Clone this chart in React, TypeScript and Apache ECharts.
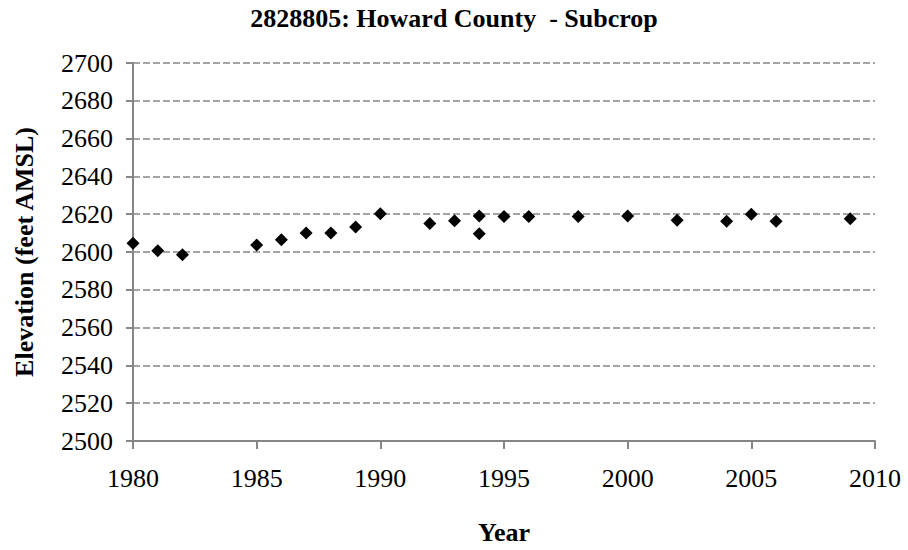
import React, { useEffect, useRef } from "react";
import * as echarts from "echarts";

const titleText = "2828805: Howard County  - Subcrop";
const xAxisName = "Year";
const yAxisName = "Elevation (feet AMSL)";

const years = [1980, 1981, 1982, 1985, 1986, 1987, 1988, 1989, 1990, 1992, 1993, 1994, 1994, 1995, 1996, 1998, 2000, 2002, 2004, 2005, 2006, 2009];
const elevations = [2604.6, 2600.7, 2598.6, 2603.7, 2606.5, 2610.0, 2610.0, 2613.2, 2620.2, 2615.1, 2616.5, 2619.0, 2609.7, 2618.8, 2618.8, 2618.8, 2619.0, 2616.8, 2616.3, 2620.0, 2616.3, 2617.6];

const xMin = 1980, xMax = 2010, xStep = 5;
const yMin = 2500, yMax = 2700, yStep = 20;

const FONT = "Liberation Serif";
const GRAY = "#868686";

export default function App() {
  const ref = useRef<HTMLDivElement>(null);
  useEffect(() => {
    document.body.style.margin = "0";
    const chart = echarts.init(ref.current!, null, { renderer: "svg" });
    const data = years.map((y, i) => [y, elevations[i]]);
    chart.setOption({
      animation: false,
      backgroundColor: "#ffffff",
      textStyle: { fontFamily: FONT },
      title: {
        text: titleText,
        left: "center",
        top: 0,
        textStyle: { fontFamily: FONT, fontWeight: "bold", fontSize: 26, color: "#000" },
      },
      grid: { left: 133, right: 33, top: 63, bottom: 107 },
      xAxis: {
        type: "value",
        min: xMin,
        max: xMax,
        interval: xStep,
        name: xAxisName,
        nameLocation: "middle",
        nameGap: 78,
        nameTextStyle: { fontFamily: FONT, fontWeight: "bold", fontSize: 26, color: "#000" },
        axisLine: { show: true, onZero: false, lineStyle: { color: GRAY, width: 2 } },
        axisTick: { show: true, length: 8, lineStyle: { color: GRAY, width: 2 } },
        axisLabel: { fontFamily: FONT, fontSize: 26, color: "#000", margin: 24, formatter: (v: number) => String(v) },
        splitLine: { show: false },
      },
      yAxis: {
        type: "value",
        min: yMin,
        max: yMax,
        interval: yStep,
        name: yAxisName,
        nameLocation: "middle",
        nameGap: 96,
        nameTextStyle: { fontFamily: FONT, fontWeight: "bold", fontSize: 26, color: "#000" },
        axisLine: { show: true, lineStyle: { color: GRAY, width: 2 } },
        axisTick: { show: true, length: 7, lineStyle: { color: GRAY, width: 2 } },
        axisLabel: { fontFamily: FONT, fontSize: 26, color: "#000", margin: 20, formatter: (v: number) => String(v) },
        splitLine: { show: true, lineStyle: { color: GRAY, width: 1.5, type: [7, 3] } },
      },
      series: [
        {
          type: "scatter",
          data,
          symbol: "diamond",
          symbolSize: 13,
          itemStyle: { color: "#000", opacity: 1 },
        },
      ],
    });
    return () => chart.dispose();
  }, []);
  return <div ref={ref} style={{ width: 908, height: 550 }} />;
}
